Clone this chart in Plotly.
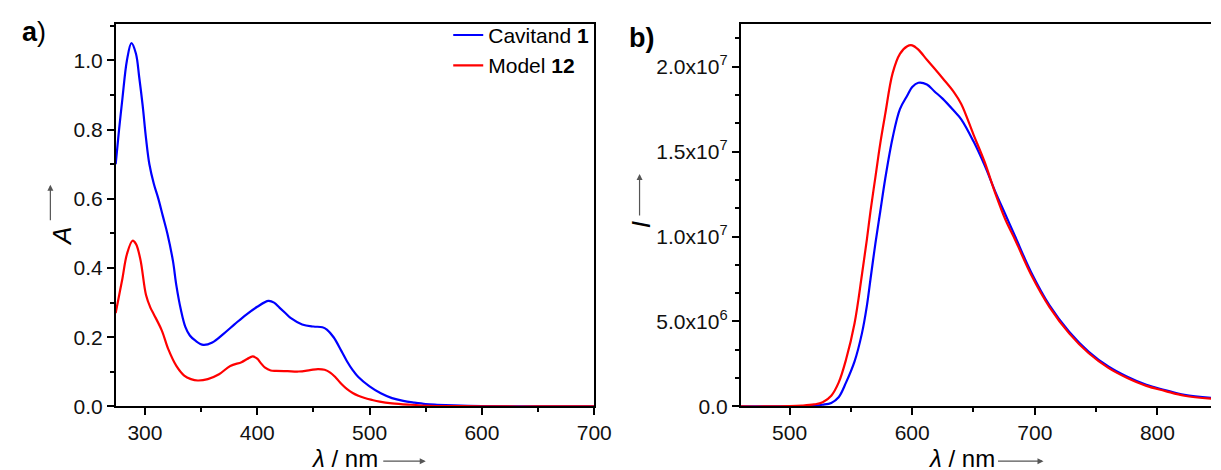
import plotly.graph_objects as go

"""Data read off the reference"""
# a) absorption spectra
wl_cavitand = [274, 277, 280, 284, 288, 292, 295, 298, 301, 304,
               308, 312, 316, 320, 325, 328, 332, 336, 340, 345,
               352, 360, 370, 380, 390, 400, 410, 415, 420, 425,
               430, 440, 450, 458, 462, 468, 475, 480, 485, 490,
               500, 510, 520, 530, 540, 550, 560, 575, 600, 650, 700]
abs_cavitand = [0.70, 0.80, 0.89, 1.00, 1.05, 1.02, 0.95, 0.87, 0.775, 0.70,
                0.643, 0.60, 0.55, 0.50, 0.42, 0.35, 0.28, 0.23, 0.205, 0.19,
                0.178, 0.185, 0.21, 0.238, 0.265, 0.288, 0.305, 0.30, 0.285, 0.27,
                0.255, 0.237, 0.231, 0.229, 0.222, 0.20, 0.16, 0.13, 0.105, 0.085,
                0.058, 0.038, 0.024, 0.016, 0.011, 0.007, 0.005, 0.003, 0.001, 0.0, 0.0]

wl_model = [274, 277, 280, 284, 289, 292, 296, 301, 305, 308,
            315, 321, 328, 335, 341, 347, 356, 366, 376, 386,
            391, 396, 400, 403, 407, 412, 417, 427, 437, 447,
            454, 460, 465, 470, 475, 480, 485, 490, 495, 502,
            509, 520, 536, 553, 575, 600, 650, 700]
abs_model = [0.27, 0.32, 0.37, 0.44, 0.479, 0.47, 0.425, 0.322, 0.285, 0.266,
             0.22, 0.164, 0.117, 0.089, 0.079, 0.075, 0.079, 0.093, 0.117, 0.128,
             0.137, 0.145, 0.138, 0.126, 0.112, 0.104, 0.103, 0.102, 0.101, 0.105,
             0.108, 0.106, 0.098, 0.083, 0.065, 0.05, 0.039, 0.031, 0.025, 0.019,
             0.014, 0.009, 0.005, 0.002, 0.001, 0.0, 0.0, 0.0]

# b) emission spectra (intensity in units of 1e6)
wl_em = [460, 480, 500, 510, 520, 527, 534, 540, 546, 553,
         559, 563, 566, 570, 574, 578, 584, 590, 596, 600,
         605, 612, 618, 625, 634, 640, 650, 659, 668, 676,
         684, 697, 712, 728, 744, 760, 775, 791, 806, 822, 845]
em_cavitand = [0, 0, 0, 0.01, 0.04, 0.1, 0.21, 0.54, 1.4, 2.65,
               4.3, 5.9, 7.5, 9.6, 11.5, 13.4, 15.8, 17.5, 18.3, 18.8,
               19.05, 18.95, 18.55, 18.1, 17.4, 16.9, 15.6, 14.2, 12.6, 11.3,
               10.0, 7.9, 5.95, 4.4, 3.22, 2.35, 1.76, 1.27, 0.97, 0.68, 0.5]
em_model = [0, 0, 0.02, 0.05, 0.12, 0.25, 0.63, 1.4, 2.75, 4.9,
            7.75, 9.8, 11.5, 13.5, 15.5, 17.2, 19.6, 20.75, 21.2, 21.25,
            21.0, 20.4, 19.9, 19.3, 18.5, 17.8, 16.0, 14.4, 12.5, 11.0,
            9.8, 7.75, 5.85, 4.3, 3.13, 2.27, 1.69, 1.21, 0.92, 0.63, 0.45]

# tick labels for panel b
em_tickvals = [0, 5e6, 1e7, 1.5e7, 2e7]
em_ticktext = ["0.0", "5.0x10<sup>6</sup>", "1.0x10<sup>7</sup>",
               "1.5x10<sup>7</sup>", "2.0x10<sup>7</sup>"]

blue = "#0000ff"
red = "#ff0000"
W, H = 1221, 470

fig = go.Figure()

fig.add_trace(go.Scatter(x=wl_cavitand, y=abs_cavitand, mode="lines", name="Cavitand <b>1</b>",
                         line=dict(color=blue, width=2.2, shape="spline"), xaxis="x", yaxis="y"))
fig.add_trace(go.Scatter(x=wl_model, y=abs_model, mode="lines", name="Model <b>12</b>",
                         line=dict(color=red, width=2.2, shape="spline"), xaxis="x", yaxis="y"))
fig.add_trace(go.Scatter(x=wl_em, y=[v * 1e6 for v in em_cavitand], mode="lines", showlegend=False,
                         line=dict(color=blue, width=2.2, shape="spline"), xaxis="x2", yaxis="y2"))
fig.add_trace(go.Scatter(x=wl_em, y=[v * 1e6 for v in em_model], mode="lines", showlegend=False,
                         line=dict(color=red, width=2.2, shape="spline"), xaxis="x2", yaxis="y2"))

# common axis styling
axis_style = dict(showline=True, linecolor="black", linewidth=1.5, ticks="outside", ticklen=7,
                  tickwidth=1.5, tickcolor="black", showgrid=False, zeroline=False,
                  tickfont=dict(size=21, color="#111"))
minor_style = dict(ticks="outside", ticklen=4, tickwidth=1.5, tickcolor="black", showgrid=False)

y_dom = [(H - 408) / H, (H - 16.5) / H]

fig.update_layout(
    width=W, height=H,
    margin=dict(l=0, r=0, t=0, b=0),
    plot_bgcolor="white", paper_bgcolor="white",
    font=dict(family="Liberation Sans, Arial", color="black", size=21),
    xaxis=dict(axis_style, domain=[109.3 / W, 595 / W], range=[274, 700], dtick=100,
               mirror=True, minor=dict(minor_style, dtick=50), anchor="y"),
    yaxis=dict(axis_style, domain=y_dom, range=[0, 1.105], dtick=0.2, tickformat=".1f",
               mirror=True, minor=dict(minor_style, dtick=0.1), anchor="x"),
    xaxis2=dict(axis_style, domain=[743.5 / W, 1.0], range=[460, 843.7], dtick=100,
                mirror=True, minor=dict(minor_style, dtick=50), anchor="y2"),
    yaxis2=dict(axis_style, domain=y_dom, range=[0, 2.25e7], tickvals=em_tickvals,
                ticktext=em_ticktext, mirror=False,
                minor=dict(minor_style, tick0=0, dtick=5e6 / 3), anchor="x2"),
    legend=dict(x=595 / W, xanchor="right", y=1 - 7 / H, yanchor="top",
                bgcolor="rgba(0,0,0,0)", font=dict(size=21), tracegroupgap=0),
)

# panel labels and axis titles
ann = [
    dict(text="<b>a</b>)", x=12 / W, y=1 - 25 / H, xanchor="left", font=dict(size=27)),
    dict(text="<b>b)</b>", x=628 / W, y=1 - 31 / H, xanchor="left", font=dict(size=27)),
    dict(text="<i>A</i>", x=37 / W, y=1 - 234 / H, textangle=-90, font=dict(size=26)),
    dict(text="<i>I</i>", x=642 / W, y=1 - 222 / H, textangle=-90, font=dict(size=26)),
    dict(text="<i>λ</i> / nm", x=378 / W, y=1 - 461 / H, xanchor="right", font=dict(size=24)),
    dict(text="<i>λ</i> / nm", x=1004 / W, y=1 - 461 / H, xanchor="right", font=dict(size=24)),
]
for a in ann:
    fig.add_annotation(xref="paper", yref="paper", showarrow=False, yanchor="middle", **a)

# little arrows next to axis titles
arrows = [
    dict(x=43 / W, y=1 - 181 / H, ax=0, ay=37),
    dict(x=641 / W, y=1 - 170 / H, ax=0, ay=43),
    dict(x=424 / W, y=1 - 464 / H, ax=-44, ay=0),
    dict(x=1051 / W, y=1 - 464 / H, ax=-47, ay=0),
]
for a in arrows:
    fig.add_annotation(xref="paper", yref="paper", text="", showarrow=True, arrowhead=2,
                       arrowsize=1, arrowwidth=1.2, arrowcolor="#555", **a)

fig.write_html("out.html")
